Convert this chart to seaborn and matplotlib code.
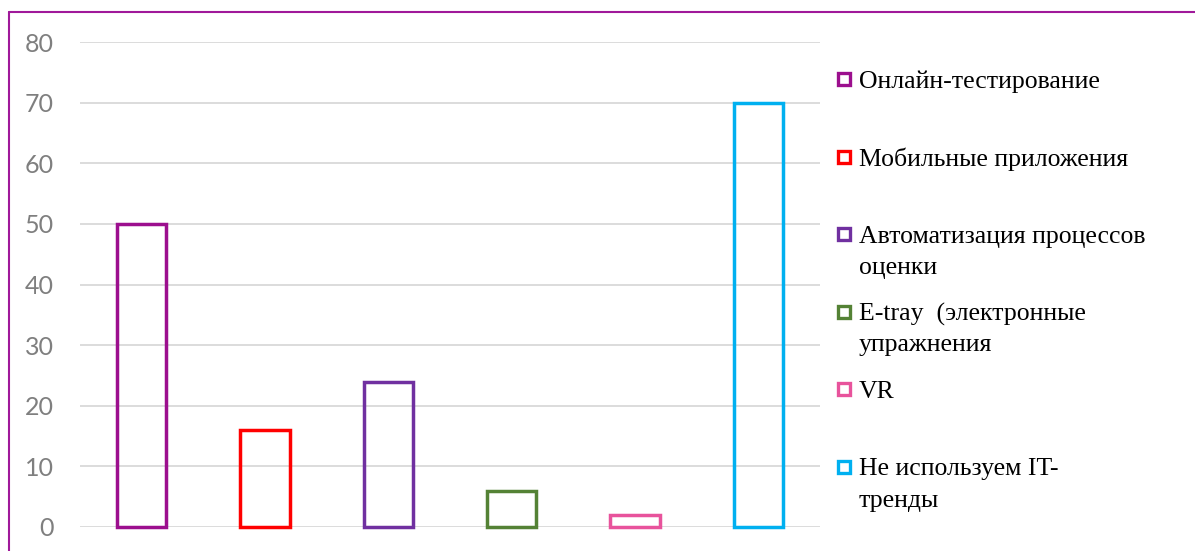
import matplotlib
matplotlib.use('Agg')
import matplotlib.pyplot as plt
from matplotlib.lines import Line2D
import seaborn as sns

categories = ['Онлайн-тестирование', 'Мобильные приложения',
              'Автоматизация процессов\nоценки', 'E-tray  (электронные\nупражнения',
              'VR', 'Не используем IT-\nтренды']
values = [50, 16, 24, 6, 2, 70]
colors = ['#9C0F8E', '#FF0000', '#7030A0', '#548235', '#E8539C', '#00B0F0']
yticks = [0, 10, 20, 30, 40, 50, 60, 70, 80]

sns.set_style('white')
plt.rcParams['font.family'] = ['DejaVu Sans']

fig = plt.figure(figsize=(11.95, 5.51), dpi=100)
ax = fig.add_axes([80 / 1195, 1 - 527 / 551, 740 / 1195, 485 / 551])

ax.set_axisbelow(True)
ax.grid(axis='y', color='#D9D9D9', linewidth=1.3)
sns.barplot(x=list(range(len(values))), y=values, hue=list(range(len(values))),
            palette=colors, fill=False, width=0.4, linewidth=2.5,
            legend=False, ax=ax)
for patch, c in zip(ax.patches, colors):
    patch.set_edgecolor(c)
    patch.set_facecolor('none')
    patch.set_clip_on(False)

ax.set_xlim(-0.5, len(values) - 0.5)
ax.set_ylim(0, 80)
ax.set_yticks(yticks)
ax.set_yticklabels([str(t) for t in yticks], family='Lato', fontsize=18, color='#7F7F7F')
ax.set_xticks([])
ax.tick_params(axis='y', length=0, pad=19)
for s in ax.spines.values():
    s.set_visible(False)

# legend drawn by hand so markers line up with the first line of each label
W, H = 1195, 551
for i, (lab, c) in enumerate(zip(categories, colors)):
    y0 = 79 + 77.6 * i
    fig.add_artist(Line2D([843.5 / W], [1 - y0 / H], marker='s', markersize=8,
                          markerfacecolor='white', markeredgecolor=c,
                          markeredgewidth=2.4, transform=fig.transFigure))
    for k, line in enumerate(lab.split('\n')):
        fig.text(859 / W, 1 - (y0 + 31 * k) / H, line, family='Liberation Serif',
                 fontsize=18.5, color='#000000', va='center_baseline', ha='left')

# outer border (only top and left visible in the crop)
border = '#A0199A'
fig.add_artist(Line2D([9 / W, 9 / W], [0, 1 - 12 / H], color=border, linewidth=1.5,
                      transform=fig.transFigure))
fig.add_artist(Line2D([9 / W, 1], [1 - 12 / H, 1 - 12 / H], color=border, linewidth=1.5,
                      transform=fig.transFigure))

fig.savefig('out.png', dpi=100)
